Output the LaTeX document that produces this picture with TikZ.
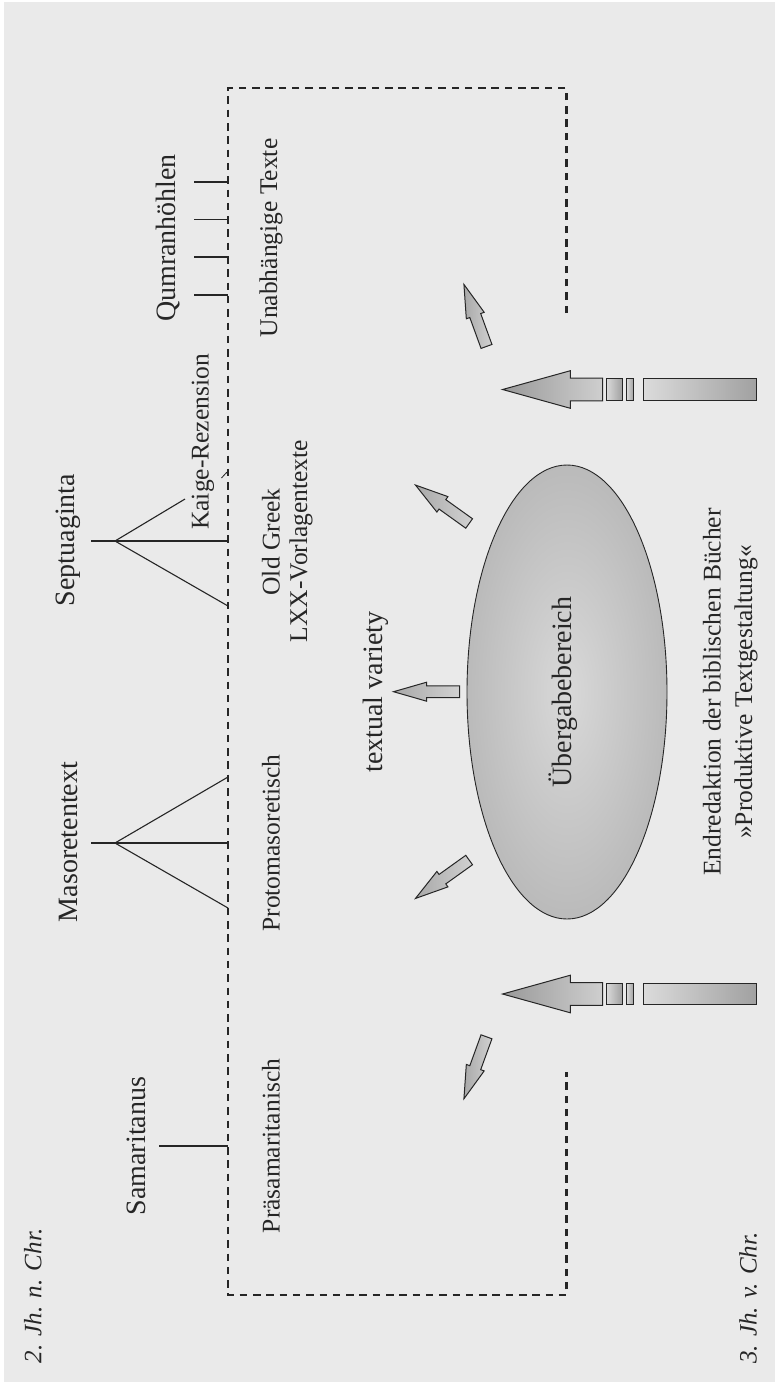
\documentclass[tikz,border=0pt]{standalone}
\usepackage{fontspec}
\setmainfont{Liberation Serif}
\usetikzlibrary{shapes.geometric,shapes.arrows}
\definecolor{bggray}{RGB}{234,234,234}
\definecolor{ink}{RGB}{38,38,38}

\begin{document}
\begin{tikzpicture}[x=1pt, y=-1pt,
    kopf/.style={rotate=90, text=ink, inner sep=0pt, font=\fontsize{28}{30}\selectfont},
    schrift/.style={rotate=90, text=ink, inner sep=0pt, font=\fontsize{25.5}{28}\selectfont},
    zeit/.style={rotate=90, text=ink, inner sep=0pt, font=\fontsize{25}{27}\selectfont\itshape},
    rand/.style={ink, line width=2.7pt, dash pattern=on 7.5pt off 5.8pt},
    ast/.style={ink, line width=1.1pt},
    pfeil/.style={single arrow, draw=ink, line width=1pt, left color=black!34, right color=black!18,
        inner xsep=0pt, inner ysep=5.3pt, minimum width=0pt, single arrow head extend=3.7pt,
        single arrow tip angle=32, minimum height=66pt, anchor=tip},
    grosspfeil/.style={single arrow, draw=ink, line width=1pt, left color=black!40, right color=black!19,
        inner xsep=0pt, inner ysep=10.8pt, minimum width=0pt, single arrow head extend=7.5pt,
        single arrow tip angle=31, minimum height=100pt, anchor=tip, rotate=180},
    balken/.style={rectangle, draw=ink, line width=1pt, left color=black!14, right color=black!37,
        inner sep=0pt, minimum height=21.3pt, anchor=west}]

    % Hintergrund
    \useasboundingbox (0,0) rectangle (775,1382);
    \fill[bggray] (4,2) rectangle (775,1382);

    % gestrichelter Rahmen
    \coordinate (ro) at (566.5,313);
    \coordinate (re) at (566.5,88);
    \coordinate (le) at (228,88);
    \coordinate (lu) at (228,1295);
    \coordinate (ru) at (566.5,1295);
    \coordinate (rb) at (566.5,1072);
    \draw[rand] (ro) -- (re) -- (le) -- (lu) -- (ru) -- (rb);

    % Qumranhoehlen
    \node[kopf] (qumr) at (168,238) {Qumranhöhlen};
    \foreach \y in {182,219.5,257,295}
        \draw[ast] (194,\y) -- (228,\y);
    \node[schrift] (unab) at (271,238) {Unabhängige Texte};

    % Septuaginta
    \node[kopf] (sept) at (68,540) {Septuaginta};
    \coordinate (s0) at (91,541);
    \coordinate (s1) at (115,541);
    \coordinate (s2) at (185,499);
    \coordinate (s3) at (228,541);
    \coordinate (s4) at (228,606);
    \draw[ast] (s0) -- (s1) -- (s3);
    \draw[ast] (s1) -- (s2);
    \draw[ast] (s1) -- (s4);
    \node[schrift] (kaig) at (203,442) {Kaige-Rezension};
    \draw[line width=0.8pt, ink] (221.5,478) -- (226.5,472.5) -- (228.5,474.5);
    \node[schrift] (oldg) at (271,542) {Old Greek};
    \node[schrift] (lxx) at (301,541) {LXX-Vorlagentexte};

    % Masoretentext
    \node[kopf] (maso) at (68,842) {Masoretentext};
    \coordinate (m0) at (91,843);
    \coordinate (m1) at (115,843);
    \coordinate (m2) at (228,777);
    \coordinate (m3) at (228,843);
    \coordinate (m4) at (228,908);
    \draw[ast] (m0) -- (m1) -- (m3);
    \draw[ast] (m1) -- (m2);
    \draw[ast] (m1) -- (m4);
    \node[schrift] (prot) at (271,843) {Protomasoretisch};

    % Samaritanus
    \node[kopf] (sama) at (136,1146) {Samaritanus};
    \coordinate (p0) at (159,1146);
    \coordinate (p1) at (228,1146);
    \draw[ast] (p0) -- (p1);
    \node[schrift] (prae) at (271,1146) {Präsamaritanisch};

    % Uebergabebereich
    \node[ellipse, draw=ink, line width=0.9pt, minimum width=200pt, minimum height=454pt,
        inner color=black!15, outer color=black!27] (ueber) at (567,692) {};
    \node[kopf] (ueblab) at (563.5,692) {Übergabebereich};
    \node[kopf] (vari) at (376,692) {textual variety};

    % kleine Pfeile
    \node[pfeil, rotate=180] (k1) at (391.7,691.7) {};
    \node[pfeil, rotate=144.4] (k2) at (414,484) {};
    \node[pfeil, rotate=215.6] (k3) at (414,899.5) {};
    \node[pfeil, rotate=110] (k4) at (463.3,282.7) {};
    \node[pfeil, rotate=250] (k5) at (463.3,1100.5) {};

    % grosse Pfeile
    \foreach \y/\n in {389.5/a, 994/b} {
        \node[grosspfeil] (g\n) at (500.7,\y) {};
        \node[balken, minimum width=16pt] (b1\n) at (605.5,\y) {};
        \node[balken, minimum width=7pt] (b2\n) at (626,\y) {};
        \node[balken, minimum width=113pt] (b3\n) at (643,\y) {};
    }

    % Endredaktion
    \node[schrift] (endr) at (712,692) {Endredaktion der biblischen Bücher};
    \node[schrift] (prod) at (746,692) {»Produktive Textgestaltung«};

    % Zeitangaben
    \node[zeit] (jh2) at (33,1296) {2. Jh. n. Chr.};
    \node[zeit] (jh3) at (748,1298) {3. Jh. v. Chr.};

\end{tikzpicture}
\end{document}
